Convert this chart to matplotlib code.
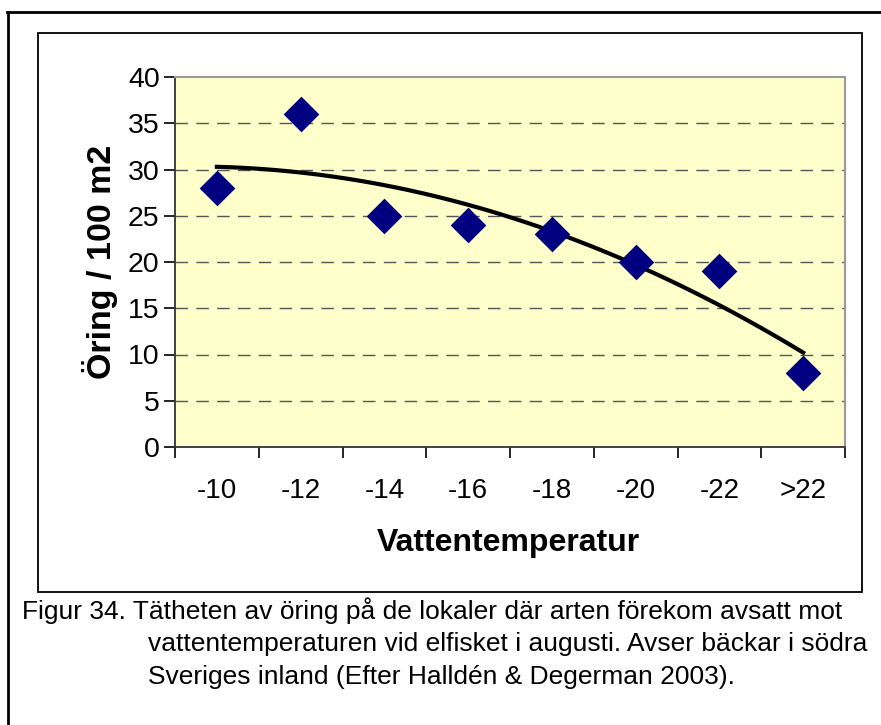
import numpy as np
import matplotlib
matplotlib.use("Agg")
import matplotlib.pyplot as plt
from matplotlib.patches import Rectangle
from matplotlib.lines import Line2D

plt.rcParams['font.family'] = ['Liberation Sans', 'DejaVu Sans']

categories = ['-10', '-12', '-14', '-16', '-18', '-20', '-22', '>22']
density = [28, 36, 25, 24, 23, 20, 19, 8]
yticks = [0, 5, 10, 15, 20, 25, 30, 35, 40]

fig = plt.figure(figsize=(8.81, 7.25), dpi=100)
W, H = 881, 725

# outer border (open to the right/bottom like the clipped page)
fig.add_artist(Line2D([7.5 / W, 7.5 / W], [0, 1 - 12 / H], color='black', lw=2, transform=fig.transFigure))
fig.add_artist(Line2D([7 / W, 1], [1 - 12 / H, 1 - 12 / H], color='black', lw=2, transform=fig.transFigure))
# chart box
fig.add_artist(Rectangle((38 / W, 1 - 592 / H), (862 - 38) / W, (592 - 33) / H,
                         fill=False, ec='black', lw=1.3, transform=fig.transFigure))

ax = fig.add_axes([175 / W, 1 - 447 / H, (845 - 175) / W, (447 - 77) / H])
ax.set_facecolor('#FFFFCC')

x = np.arange(1, len(categories) + 1)
ax.scatter(x, density, marker='D', s=330, color='#000080', zorder=3, linewidths=0)

# Excel style 2nd order polynomial trendline
coef = np.polyfit(x, density, 2)
xs = np.linspace(1, 8, 100)
ax.plot(xs, np.polyval(coef, xs), color='black', lw=3, zorder=2)

ax.set_xlim(0.5, 8.5)
ax.set_ylim(0, 40)
ax.set_yticks(yticks)
ax.set_yticklabels([str(v) for v in yticks], fontsize=20.5)
for v in yticks[1:-1]:
    ax.axhline(v, color='#555555', lw=1, dashes=(9, 6), zorder=1)

ax.set_xticks(np.arange(0.5, 9, 1))
ax.set_xticklabels([])
ax.set_xticks(x, minor=True)
ax.set_xticklabels(categories, minor=True, fontsize=20)
ax.tick_params(axis='x', which='major', length=8, width=1.2, direction='out')
ax.tick_params(axis='x', which='minor', length=0, pad=22)
ax.tick_params(axis='y', length=8, width=1.2, direction='out', pad=3)

for s in ['top', 'right']:
    ax.spines[s].set_color('#999999')
    ax.spines[s].set_linewidth(1.5)
for s in ['left', 'bottom']:
    ax.spines[s].set_color('#333333')
    ax.spines[s].set_linewidth(1.3)

fig.text(508 / W, 1 - 543 / H, 'Vattentemperatur', fontsize=23, fontweight='bold',
         ha='center', va='center')
fig.text(100 / W, 1 - 262 / H, 'Öring / 100 m2', fontsize=24.5, fontweight='bold',
         ha='center', va='center', rotation=90)

cap = dict(fontsize=19, va='center', ha='left')
fig.text(22 / W, 1 - 611 / H, 'Figur 34. Tätheten av öring på de lokaler där arten förekom avsatt mot', **cap)
fig.text(148 / W, 1 - 644 / H, 'vattentemperaturen vid elfisket i augusti. Avser bäckar i södra', **cap)
fig.text(148 / W, 1 - 677 / H, 'Sveriges inland (Efter Halldén & Degerman 2003).', **cap)

fig.savefig('out.png', dpi=100)
